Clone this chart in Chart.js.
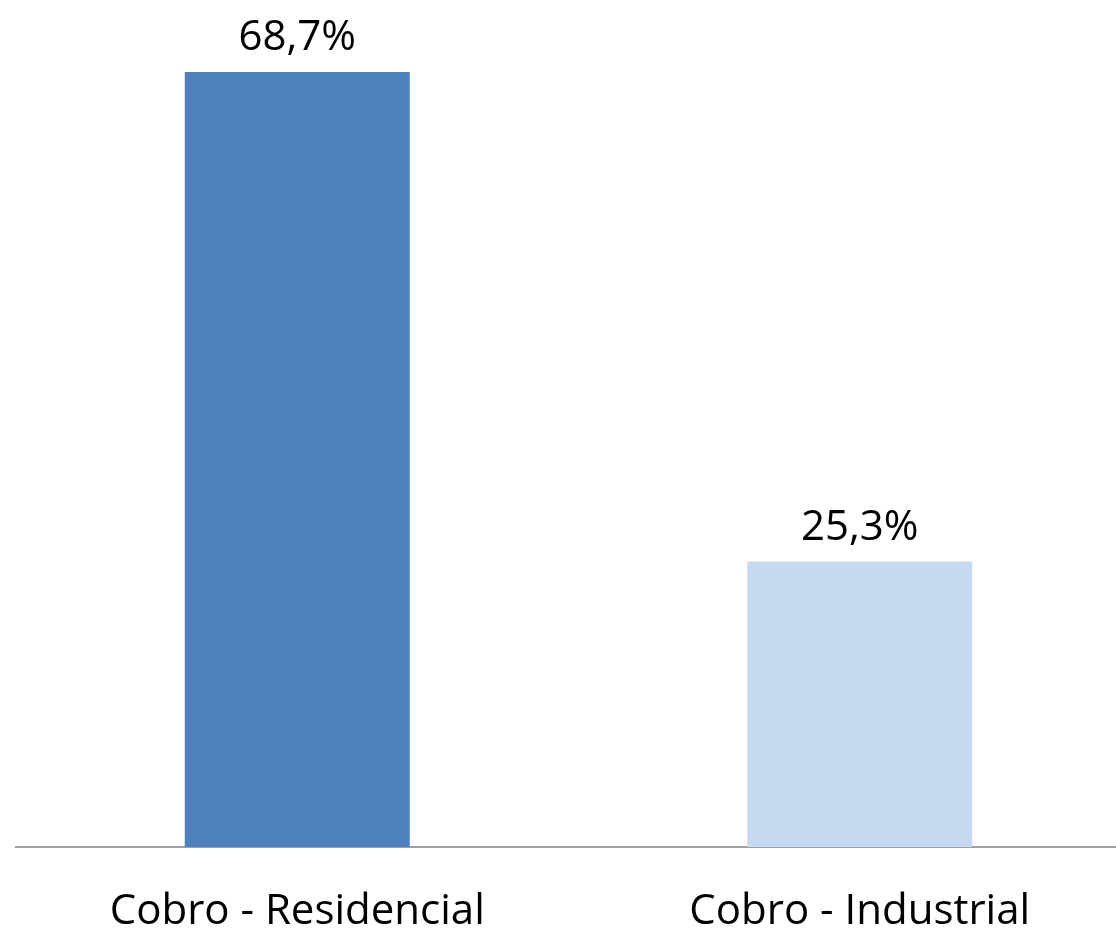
<!DOCTYPE html>
<html>
<head>
<meta charset="utf-8">
<script src="https://cdn.jsdelivr.net/npm/chart.js@4/dist/chart.umd.min.js"></script>
<style>
  html, body { margin: 0; padding: 0; background: #fff; overflow: hidden; }
  #wrap { width: 1145px; height: 928px; }
</style>
</head>
<body>
<div id="wrap"><canvas id="chart" width="1145" height="928"></canvas></div>
<script>
const categories = ['Cobro - Residencial', 'Cobro - Industrial'];
const shares = [68.7, 25.3];
const barColors = ['#4f81bd', '#c6d9f0'];

const FONT = '"Open Sans", "Liberation Sans", sans-serif';

// value labels above each bar, e.g. 68,7%
const valueLabels = {
    id: 'valueLabels',
    afterDatasetsDraw(chart) {
        const ctx = chart.ctx;
        const meta = chart.getDatasetMeta(0);
        ctx.save();
        ctx.font = '42px ' + FONT;
        ctx.fillStyle = '#000';
        ctx.textAlign = 'center';
        ctx.textBaseline = 'alphabetic';
        meta.data.forEach((bar, i) => {
            const txt = shares[i].toFixed(1).replace('.', ',') + '%';
            ctx.fillText(txt, bar.x, bar.y - 22);
        });
        ctx.restore();
    }
};

new Chart(document.getElementById('chart'), {
    type: 'bar',
    data: {
        labels: categories,
        datasets: [{
            data: shares,
            backgroundColor: barColors,
            borderWidth: 0,
            categoryPercentage: 1,
            barPercentage: 0.4
        }]
    },
    options: {
        responsive: false,
        animation: false,
        layout: { padding: { left: 16, right: 4, top: 1, bottom: 0 } },
        plugins: { legend: { display: false }, tooltip: { enabled: false } },
        scales: {
            x: {
                grid: { display: false, drawTicks: false },
                border: { color: '#a0a0a0', width: 2 },
                ticks: { color: '#000', font: { family: FONT, size: 42 }, padding: 40 },
                afterFit(scale) { scale.height = 81; }
            },
            y: { display: false, min: 0, max: 75 }
        }
    },
    plugins: [valueLabels]
});
</script>
</body>
</html>
